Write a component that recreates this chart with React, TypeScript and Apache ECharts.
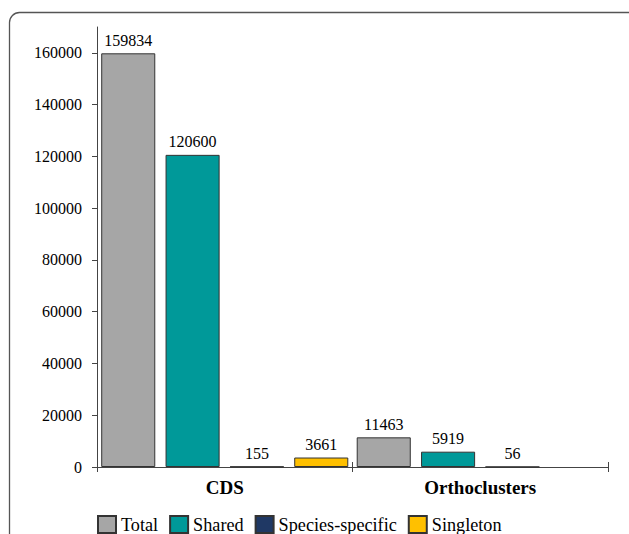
import React, { useEffect, useRef } from "react";
import * as echarts from "echarts";

const categories = ["CDS", "Orthoclusters"];
const seriesNames = ["Total", "Shared", "Species-specific", "Singleton"];
const totalValues = [159834, 11463];
const sharedValues = [120600, 5919];
const speciesSpecificValues = [155, 56];
const singletonValues: (number | string)[] = [3661, "-"];
const yTicks = [0, 20000, 40000, 60000, 80000, 100000, 120000, 140000, 160000];
const colors = ["#a6a6a6", "#009999", "#1f3864", "#ffc000"];

const FONT = "'Liberation Serif', 'Times New Roman', serif";

export default function App() {
  const ref = useRef<HTMLDivElement>(null);
  useEffect(() => {
    if (!ref.current) return;
    const chart = echarts.init(ref.current, null, { renderer: "svg" });
    const values = [totalValues, sharedValues, speciesSpecificValues, singletonValues];
    const axisColor = "#444";
    chart.setOption({
      animation: false,
      textStyle: { fontFamily: FONT },
      grid: { left: 97, right: 21, top: 27, bottom: 67 },
      legend: {
        left: 97,
        top: 515,
        padding: 0,
        itemWidth: 18,
        itemHeight: 17,
        itemGap: 11,
        icon: "rect",
        data: seriesNames,
        textStyle: { fontSize: 18.2, lineHeight: 16, color: "#000", fontFamily: FONT },
      },
      xAxis: [
        {
          type: "category",
          data: categories,
          axisLine: { lineStyle: { color: axisColor, width: 1 } },
          axisTick: { show: true, length: 5, lineStyle: { color: axisColor } },
          axisLabel: {
            fontSize: 19,
            fontWeight: "bold",
            color: "#000",
            fontFamily: FONT,
            margin: 11,
          },
        },
        {
          type: "category",
          data: categories,
          position: "bottom",
          axisLine: { show: false },
          axisTick: { show: true, inside: true, length: 5, lineStyle: { color: axisColor } },
          axisLabel: { show: false },
        },
      ],
      yAxis: {
        type: "value",
        min: 0,
        max: 170000,
        interval: 20000,
        splitLine: { show: false },
        axisLine: { show: true, lineStyle: { color: axisColor, width: 1 } },
        axisTick: { show: true, length: 5, customValues: yTicks, lineStyle: { color: axisColor } },
        axisLabel: {
          customValues: yTicks,
          fontSize: 16,
          color: "#000",
          fontFamily: FONT,
          margin: 15,
          formatter: (v: number) => String(v),
        },
      },
      series: seriesNames.map((name, i) => ({
        name,
        type: "bar",
        data: values[i],
        barGap: "19%",
        barCategoryGap: "3.3%",
        itemStyle: { color: colors[i], borderColor: "#333", borderWidth: 1 },
        label: {
          show: true,
          position: "top",
          distance: 5,
          fontSize: 16,
          color: "#000",
          fontFamily: FONT,
        },
      })),
      graphic: [
        {
          type: "rect",
          shape: { x: 9.5, y: 12.5, width: 700, height: 600, r: 10 },
          style: { fill: "none", stroke: "#555", lineWidth: 1.3 },
          silent: true,
        },
      ],
    });
    return () => chart.dispose();
  }, []);
  return (
    <div
      ref={ref}
      style={{ position: "fixed", left: 0, top: 0, width: 629, height: 534, background: "#fff" }}
    />
  );
}
